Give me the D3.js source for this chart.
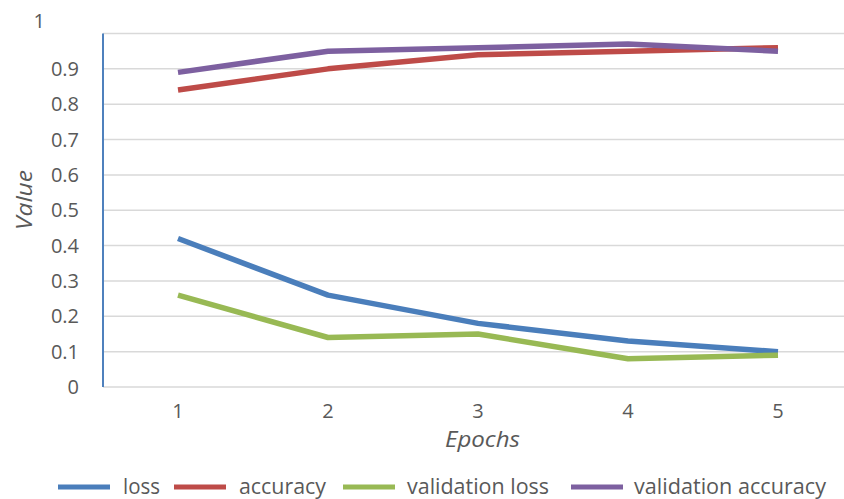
<!DOCTYPE html>
<html><head><meta charset="utf-8">
<script src="https://cdn.jsdelivr.net/npm/d3@7"></script>
<style>body{margin:0;background:#fff}svg{display:block}text{font-family:"Open Sans",sans-serif}</style>
</head><body><svg id="c" width="844" height="499"></svg>
<script>
const epochs = ["1","2","3","4","5"];
const loss = [0.42, 0.26, 0.18, 0.13, 0.10];
const accuracy = [0.84, 0.90, 0.94, 0.95, 0.96];
const valLoss = [0.26, 0.14, 0.15, 0.08, 0.09];
const valAccuracy = [0.89, 0.95, 0.96, 0.97, 0.95];
const yTicks = [0,0.1,0.2,0.3,0.4,0.5,0.6,0.7,0.8,0.9,1];
const seriesNames = ["loss","accuracy","validation loss","validation accuracy"];
const colors = ["#4a7ebb","#be4b48","#98b954","#7d60a0"];
const seriesData = [loss, accuracy, valLoss, valAccuracy];

(function(){
const svg = d3.select("#c");
const pl = 103, pr = 853, pt = 33.5, pb = 387;
const x = d3.scaleBand().domain(epochs).range([pl, pr]);
const y = d3.scaleLinear().domain([0,1]).range([pb, pt]);

svg.append("g").selectAll("line").data(yTicks).join("line")
  .attr("x1", pl).attr("x2", pr)
  .attr("y1", d=>y(d)).attr("y2", d=>y(d))
  .attr("stroke","#d9d9d9").attr("stroke-width",1.5);

svg.append("g").selectAll("text").data(yTicks.filter(d=>d<1)).join("text")
  .attr("x", 79).attr("y", d=>y(d)+7).attr("text-anchor","end")
  .attr("font-size",20).attr("fill","#595959").text(d=>String(+d.toFixed(1)));
svg.append("text").attr("x",45).attr("y",28).attr("text-anchor","end")
  .attr("font-size",20).attr("fill","#595959").text(yTicks[yTicks.length-1]);

svg.append("line").attr("x1",pl).attr("x2",pl).attr("y1",pt).attr("y2",pb)
  .attr("stroke","#4f81bd").attr("stroke-width",2);

svg.append("g").selectAll("text").data(epochs).join("text")
  .attr("x", d=>x(d)+x.bandwidth()/2).attr("y",418).attr("text-anchor","middle")
  .attr("font-size",20).attr("fill","#595959").text(d=>d);

svg.append("text").attr("x",445).attr("y",447)
  .attr("font-size",21).attr("font-style","italic").attr("fill","#595959")
  .attr("textLength",75).attr("lengthAdjust","spacingAndGlyphs").text("Epochs");
svg.append("text").attr("transform","translate(32,230) rotate(-90)")
  .attr("font-size",21).attr("font-style","italic").attr("fill","#595959")
  .attr("textLength",60).attr("lengthAdjust","spacingAndGlyphs").text("Value");

const line = d3.line().x((d,i)=>x(epochs[i])+x.bandwidth()/2).y(d=>y(d));
seriesData.forEach((s,k)=>{
  svg.append("path").attr("d",line(s)).attr("fill","none")
    .attr("stroke",colors[k]).attr("stroke-width",5.5).attr("stroke-linejoin","round");
});

const legX = [58,174,343,571];
const legTextX = [123,239,407,634];
const legTextW = [37,87,142,192];
seriesNames.forEach((n,k)=>{
  svg.append("line").attr("x1",legX[k]).attr("x2",legX[k]+52).attr("y1",487).attr("y2",487)
    .attr("stroke",colors[k]).attr("stroke-width",5);
  svg.append("text").attr("x",legTextX[k]).attr("y",494).attr("font-size",21)
    .attr("textLength",legTextW[k]).attr("lengthAdjust","spacingAndGlyphs")
    .attr("fill","#595959").text(n);
});
})();
</script></body></html>
